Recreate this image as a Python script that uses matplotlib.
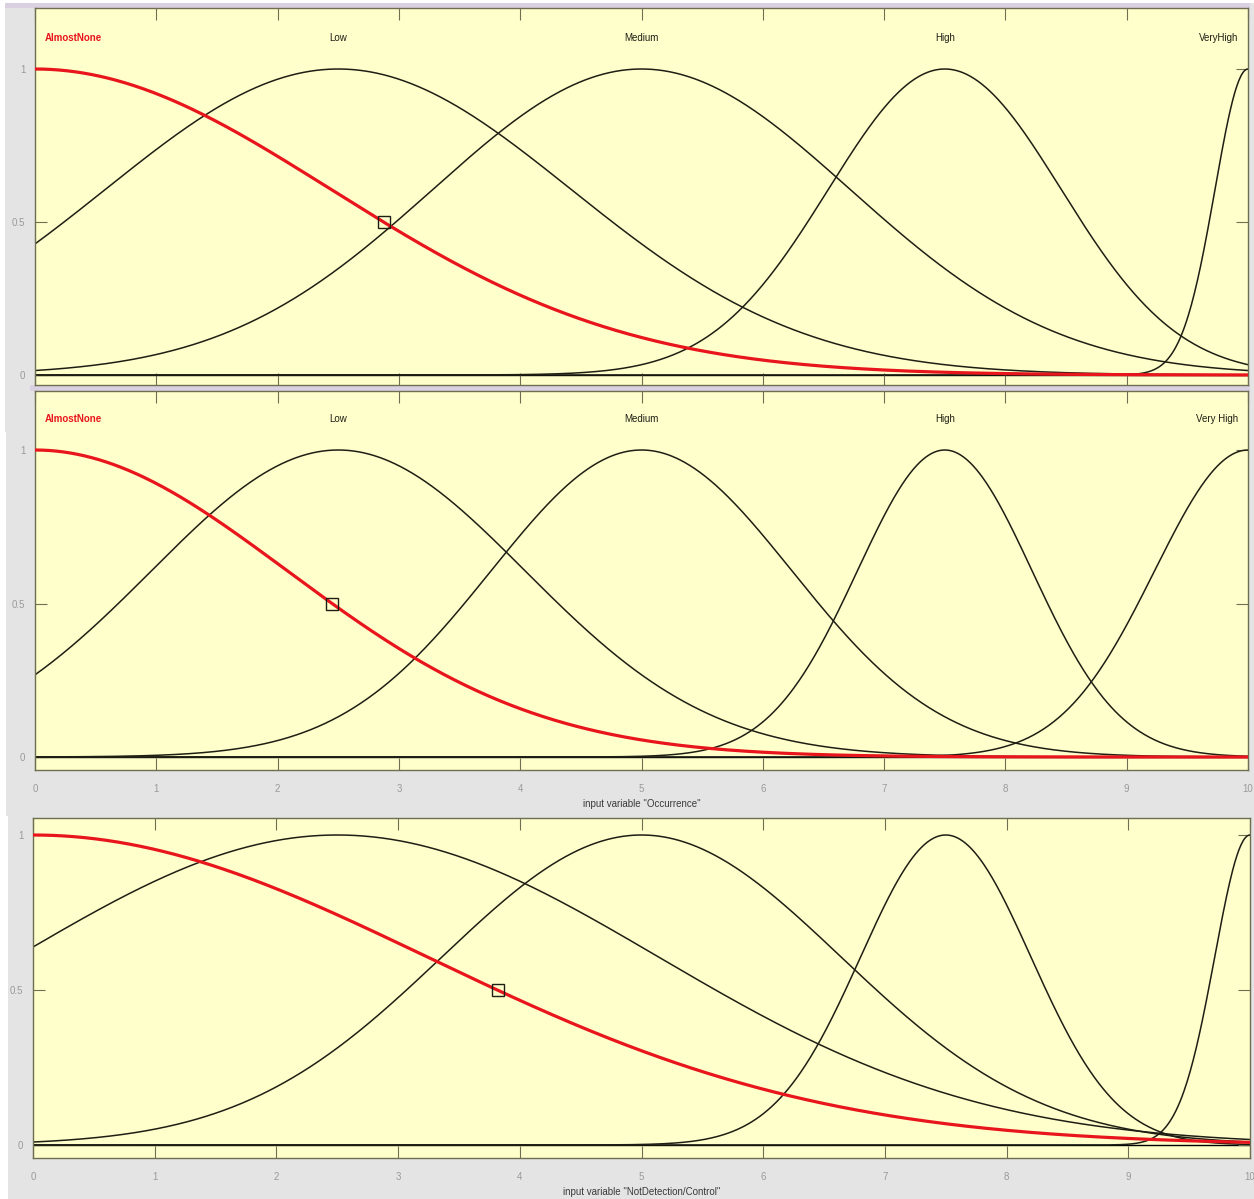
"""Membership functions of the three fuzzy input variables, stacked."""

import matplotlib.pyplot as plt
from matplotlib.patches import Rectangle
import numpy as np

W, H = 1254, 1199
YELLOW = "#ffffcc"
PANEL = "#e4e4e4"
EDGE = "#6e6e50"
LINE = "#1e1e14"
RED = "#e8161c"

MF_NAMES = ["AlmostNone", "Low", "Medium", "High", "VeryHigh"]
MF_NAMES_OCC = ["AlmostNone", "Low", "Medium", "High", "Very High"]
MF_CENTERS = [0, 2.5, 5, 7.5, 10]

# gaussian widths (sigma) of the five sets, per input variable
SEV_SIGMA = [2.44, 1.92, 1.72, 0.96, 0.272]
OCC_SIGMA = [2.08, 1.54, 1.24, 0.72, 0.77]
DET_SIGMA = [3.24, 2.64, 1.64, 0.70, 0.29]

MARK_X = [2.88, 2.45, 3.82]     # selected set, at membership 0.5
MARK_Y = 0.5
XTICKS = list(range(11))
YTICKS = [0, 0.5, 1]
XLABELS = ["", 'input variable "Occurrence"',
           'input variable "NotDetection/Control"']


def gaussmf(x, sig, c):
    return np.exp(-(x - c) ** 2 / (2 * sig ** 2))


def frac(x0, y0, x1, y1):
    """pixel box (top-left origin) -> figure fraction rect"""
    return [x0 / W, 1 - y1 / H, (x1 - x0) / W, (y1 - y0) / H]


def add_rect(fig, box, color):
    r = frac(*box)
    fig.add_artist(Rectangle(r[:2], r[2], r[3], transform=fig.transFigure,
                             color=color, lw=0, zorder=0))


def draw_panel(fig, box, y1px, y0px, sigmas, names, mark_x, xlabel,
               show_xticks=True):
    ax = fig.add_axes(frac(*box))
    scale = y0px - y1px
    ax.set_ylim(-(box[3] - y0px) / scale, 1 + (y1px - box[1]) / scale)
    ax.set_xlim(0, 10)
    ax.set_facecolor(YELLOW)
    for s in ax.spines.values():
        s.set_color(EDGE)
        s.set_linewidth(1.0)

    x = np.linspace(0, 10, 1201)
    ax.axhline(0, color="black", lw=1.0, zorder=1)
    for i, (sig, c) in enumerate(zip(sigmas, MF_CENTERS)):
        y = gaussmf(x, sig, c)
        if i == 0:
            ax.plot(x, y, color=RED, lw=2.3, zorder=3)
        else:
            ax.plot(x, y, color=LINE, lw=1.1, zorder=2)
    ax.plot(mark_x, MARK_Y, "s", mfc="none", mec=LINE, ms=9,
            mew=1.0, zorder=4)

    if names:
        ty = 1.1
        ax.text(0.08, ty, names[0], color=RED, fontsize=7,
                fontweight="bold", ha="left", va="center")
        for n, c in zip(names[1:-1], MF_CENTERS[1:-1]):
            ax.text(c, ty, n, color=LINE, fontsize=7,
                    ha="center", va="center")
        ax.text(9.92, ty, names[-1], color=LINE, fontsize=7,
                ha="right", va="center")

    ax.set_xticks(XTICKS)
    ax.set_yticks(YTICKS)
    ax.set_yticklabels(["0", "0.5", "1"])
    ax.tick_params(direction="in", length=8.5, width=0.8, color=EDGE,
                   top=True, right=True, labelsize=7,
                   labelcolor="#9a9a9a")
    ax.tick_params(axis="x", pad=10)
    ax.tick_params(axis="y", pad=7)
    if show_xticks:
        ax.set_xticklabels([str(v) for v in XTICKS])
    else:
        ax.set_xticklabels([])
    if xlabel:
        ax.set_xlabel(xlabel, fontsize=7, color="#3a3a3a", labelpad=4)
    return ax


plt.rcParams["font.family"] = ["Liberation Sans", "DejaVu Sans"]
fig = plt.figure(figsize=(W / 100, H / 100), dpi=100)
fig.patch.set_facecolor("white")

add_rect(fig, (5, 3, W, 432), PANEL)
add_rect(fig, (6, 386, W, 816), PANEL)
add_rect(fig, (8, 816, W, H), PANEL)
add_rect(fig, (5, 3, 1250, 8), "#d9d0e2")
add_rect(fig, (30, 385, 1250, 391), "#d9d0e2")

draw_panel(fig, (35, 8, 1248, 385), 69, 375, SEV_SIGMA, MF_NAMES,
           MARK_X[0], XLABELS[0], show_xticks=False)
draw_panel(fig, (35, 391, 1248, 770), 450, 757, OCC_SIGMA, MF_NAMES_OCC,
           MARK_X[1], XLABELS[1])
draw_panel(fig, (33, 818, 1250, 1158), 835, 1145, DET_SIGMA, None,
           MARK_X[2], XLABELS[2])

fig.savefig("out.png", dpi=100)
